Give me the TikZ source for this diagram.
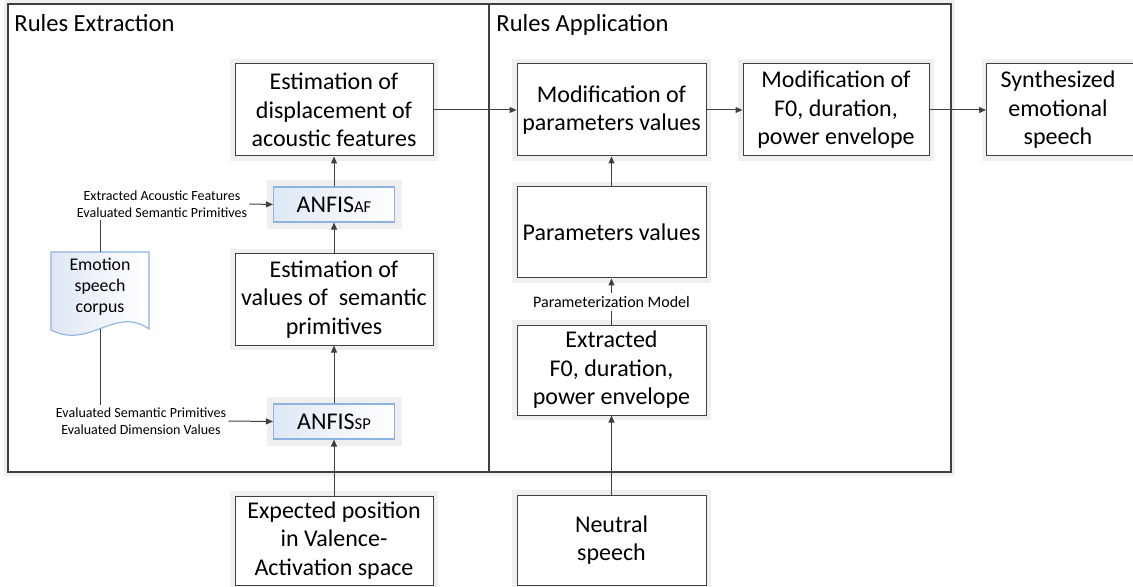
\documentclass[tikz,border=0pt]{standalone}
\usepackage{fontspec}
\setmainfont{Carlito}
\usetikzlibrary{arrows.meta}
\definecolor{ln}{HTML}{404040}
\definecolor{halo}{HTML}{EFEFEF}
\definecolor{anb}{HTML}{8DB3E2}
\definecolor{anf}{HTML}{DFE8F5}
\begin{document}
\begin{tikzpicture}[x=0.5pt,y=-0.5pt,
  box/.style={draw=ln, line width=0.5pt, fill=white, preaction={draw=halo, line width=5pt},
    align=center, font=\fontsize{12}{14.25}\selectfont, inner sep=0pt},
  anfis/.style={draw=anb, line width=0.55pt, left color=anf, right color=white,
    preaction={draw=halo, line width=7pt}, font=\fontsize{12}{14}\selectfont, inner sep=0pt,
    minimum width=60.5pt, minimum height=17.5pt},
  arr/.style={draw=ln, line width=0.5pt, -{Triangle[length=3.5pt,width=3pt]}},
  plain/.style={draw=ln, line width=0.5pt},
  lbl/.style={font=\fontsize{7}{8.5}\selectfont, align=center, inner sep=1pt},
  ttl/.style={anchor=base west, font=\fontsize{12.3}{14}\selectfont, inner sep=0pt}]
\clip (0,0) rectangle (1133,587);
\fill[white] (0,0) rectangle (1133,587);
% panels
\draw[halo, line width=4pt] (8,4) rectangle (951,472);
\fill[white] (8,4) rectangle (951,472);
\draw[ln, line width=0.55pt] (8,4) rectangle (489,472);
\draw[ln, line width=0.55pt] (489,4) rectangle (951,472);
\node[ttl] (t1) at (14,32) {Rules Extraction};
\node[ttl] (t2) at (496,32) {Rules Application};
% boxes
\node[box, minimum width=99pt, minimum height=46pt] (disp) at (334,110) {Estimation of\\displacement of\\acoustic features};
\node[box, minimum width=94.5pt, minimum height=46pt] (modpar) at (611.5,110) {Modification of\\parameters values};
\node[box, minimum width=93pt, minimum height=46pt] (modf0) at (836,110) {Modification of\\F0, duration,\\power envelope};
\node[box, anchor=west, minimum width=84pt, minimum height=46pt] (synth) at (986,110) {};
\node[align=center, font=\fontsize{12}{14.25}\selectfont, inner sep=0pt] (synthtxt) at (1058,110) {Synthesized\\emotional\\speech};
\node[anfis] (anfisaf) at (334,204.5) {ANFIS{\fontsize{8.3}{10}\selectfont AF}};
\node[box, minimum width=99pt, minimum height=45.5pt] (estval) at (334,299.5) {Estimation of\\values of \ semantic\\primitives};
\node[anfis] (anfissp) at (334,421.5) {ANFIS{\fontsize{8.3}{10}\selectfont SP}};
\node[box, minimum width=99pt, minimum height=44.5pt] (expct) at (334,540.5) {Expected position\\in Valence-\\Activation space};
\node[box, minimum width=94.5pt, minimum height=45.5pt] (params) at (611.5,232.5) {Parameters values};
\node[box, minimum width=94.5pt, minimum height=45pt] (extr) at (611.5,370) {Extracted\\F0, duration,\\power envelope};
\node[box, minimum width=94.5pt, minimum height=45pt] (neutral) at (611.5,540) {Neutral\\speech};
% document shape
\draw[draw=anb, line width=0.55pt, left color=anf, right color=white]
  (51,252) -- (149,252) -- (149,329) .. controls (115,305) and (90,350) .. (51,330) -- cycle;
\node[align=center, font=\fontsize{8.9}{10.5}\selectfont, inner sep=0pt] (doc) at (100,287) {Emotion\\speech\\corpus};
\coordinate (docT) at (100,252);
\coordinate (docB) at (100,329);
% labels
\node[lbl] (l1) at (162,204) {Extracted Acoustic Features\\Evaluated Semantic Primitives};
\node[lbl] (l2) at (141,421) {Evaluated Semantic Primitives\\Evaluated Dimension Values};
\node[font=\fontsize{8}{9.5}\selectfont, fill=white, inner sep=1.5pt] (pm) at (611.5,302) {Parameterization Model};
% connectors
\draw[arr] (disp.east) -- (modpar.west);
\draw[arr] (modpar.east) -- (modf0.west);
\draw[arr] (modf0.east) -- (synth.west);
\draw[arr] (anfisaf.north) -- (disp.south);
\draw[arr] (estval.north) -- (anfisaf.south);
\draw[arr] (anfissp.north) -- (estval.south);
\draw[arr] (expct.north) -- (anfissp.south);
\draw[arr] (l1.east) -- (anfisaf.west);
\draw[arr] (l2.east) -- (anfissp.west);
\draw[plain] (docT) -- (docT |- l1.south);
\draw[plain] (docB) -- (docB |- l2.north);
\draw[arr] (params.north) -- (modpar.south);
\draw[plain] (extr.north) -- (pm.south);
\draw[arr] (pm.north) -- (params.south);
\draw[arr] (neutral.north) -- (extr.south);
\end{tikzpicture}
\end{document}
